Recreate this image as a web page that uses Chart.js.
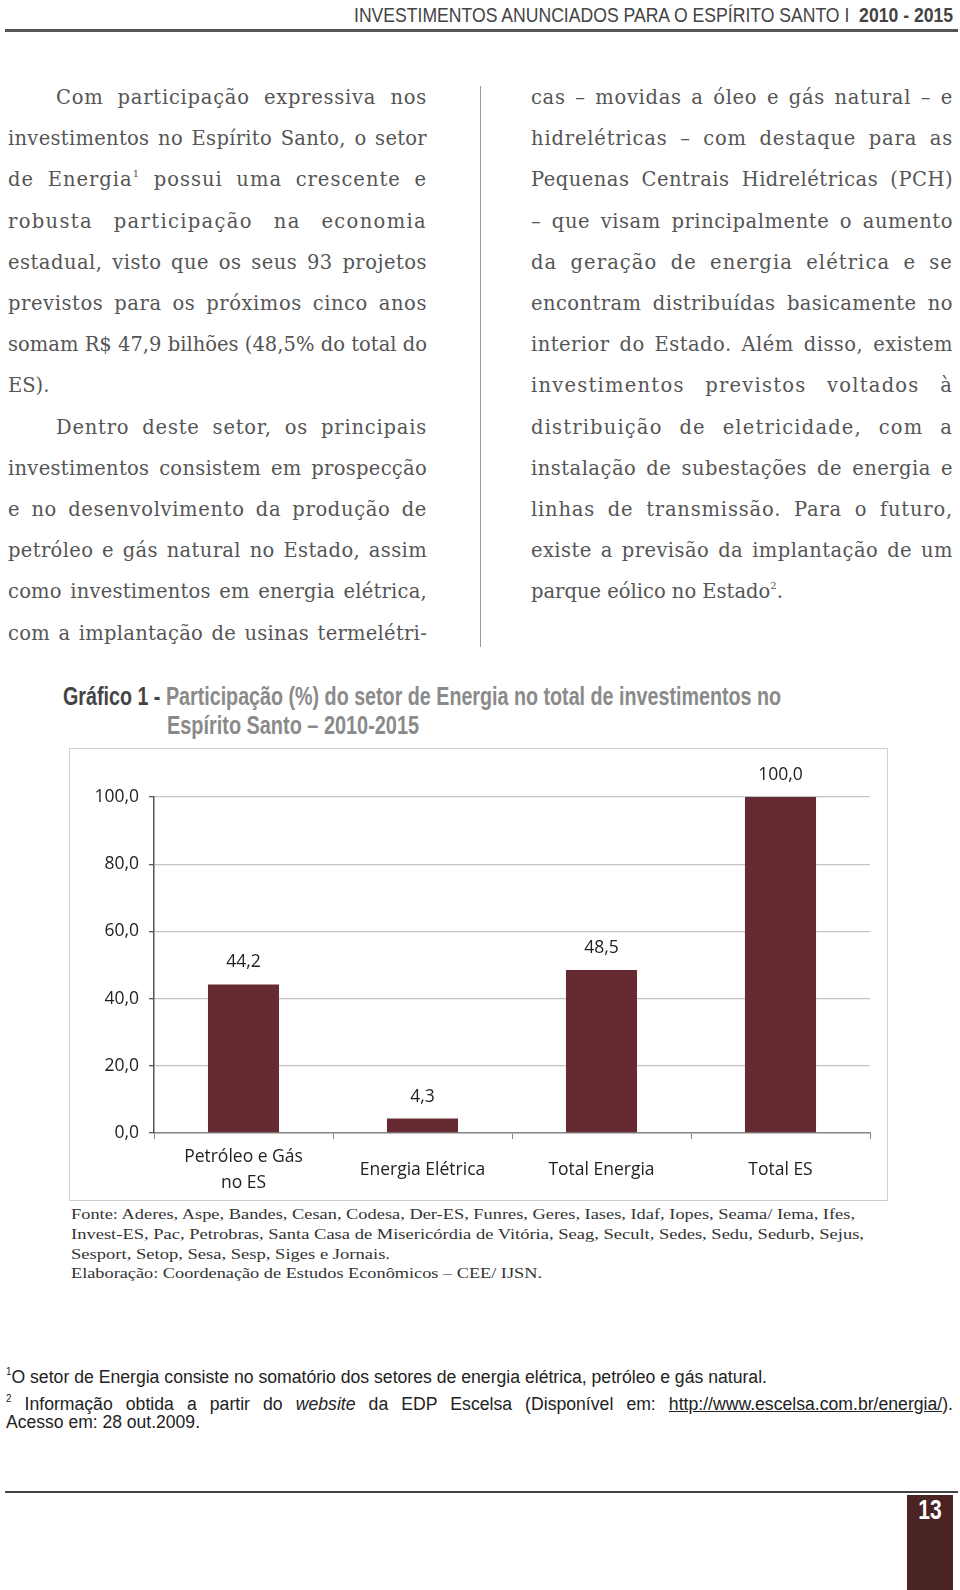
<!DOCTYPE html>
<html>
<head>
<meta charset="utf-8">
<script src="https://cdn.jsdelivr.net/npm/chart.js@4"></script>
<style>
  body { margin: 0; width: 960px; height: 1590px; background: #fff; position: relative; overflow: hidden; }
  .abs { position: absolute; white-space: nowrap; }
  .hdr { right: 7px; top: 3px; font-family: "Liberation Sans", Arial, sans-serif; font-size: 21px; color: #444; }
  .hline { position: absolute; left: 5px; width: 953px; height: 3px; background: #555; }
  .body { position: absolute; font-family: "DejaVu Serif", serif; font-size: 19.5px; color: #555; line-height: 24px; white-space: nowrap; }
  .j { text-align: justify; text-align-last: justify; white-space: normal; }
  .body sup { font-size: 10px; vertical-align: 9px; line-height: 0; }
  .ttl { font-family: "Liberation Sans", Arial, sans-serif; font-weight: bold; font-size: 25px; color: #8a8a8a; }
  .fonte { position: absolute; left: 71px; font-family: "Liberation Serif", serif; font-size: 15.5px; color: #333; white-space: nowrap; }
  .fn { position: absolute; left: 6px; font-family: "Liberation Sans", Arial, sans-serif; font-size: 18px; color: #222; white-space: nowrap; }
  .fn sup { font-size: 10px; vertical-align: 8px; line-height: 0; }
  #frame { position: absolute; left: 69px; top: 748px; width: 819px; height: 453px; box-sizing: border-box; border: 1px solid #cfcfcf; }
</style>
</head>
<body>
<div class="abs hdr" id="hdr">INVESTIMENTOS ANUNCIADOS PARA O ESPÍRITO SANTO I&nbsp; <b>2010 - 2015</b></div>
<div class="hline" style="top:29px"></div>

<div id="left"></div>
<div id="right"></div>
<div style="position:absolute;left:480px;top:86px;width:1px;height:561px;background:#999"></div>

<div class="abs ttl" id="t1" style="left:63px;top:682px"><span style="color:#444">Gráfico 1 -</span> Participação (%) do setor de Energia no total de investimentos no</div>
<div class="abs ttl" id="t2" style="left:167px;top:711px">Espírito Santo – 2010-2015</div>

<div id="frame"><canvas id="myChart"></canvas></div>

<div class="fonte" id="f1" style="top:1205px">Fonte: Aderes, Aspe, Bandes, Cesan, Codesa, Der-ES, Funres, Geres, Iases, Idaf, Iopes, Seama/ Iema, Ifes,</div>
<div class="fonte" id="f2" style="top:1225px">Invest-ES, Pac, Petrobras, Santa Casa de Misericórdia de Vitória, Seag, Secult, Sedes, Sedu, Sedurb, Sejus,</div>
<div class="fonte" id="f3" style="top:1245px">Sesport, Setop, Sesa, Sesp, Siges e Jornais.</div>
<div class="fonte" id="f4" style="top:1264px">Elaboração: Coordenação de Estudos Econômicos – CEE/ IJSN.</div>

<div class="fn" id="n1" style="top:1367px"><sup>1</sup>O setor de Energia consiste no somatório dos setores de energia elétrica, petróleo e gás natural.</div>
<div class="fn j" id="n2" style="top:1394px"><sup>2</sup> Informação obtida a partir do <i>website</i> da EDP Escelsa (Disponível em: <u>http://www.escelsa.com.br/energia/</u>).</div>
<div class="fn" id="n3" style="top:1412px">Acesso em: 28 out.2009.</div>

<div class="hline" style="top:1491px;height:2px;background:#444"></div>
<div style="position:absolute;left:907px;top:1495px;width:46px;height:95px;background:#4a2323"></div>
<div class="abs" style="left:907px;width:46px;top:1495px;text-align:center;font-family:'Liberation Sans',Arial,sans-serif;font-weight:bold;font-size:27px;color:#fff"><span style="display:inline-block;transform:scaleX(0.78)">13</span></div>

<script>
// texto das colunas
const leftLines = [
  ['Com participação expressiva nos', 'i'],
  ['investimentos no Espírito Santo, o setor', 'j'],
  ['de Energia<sup>1</sup> possui uma crescente e', 'j'],
  ['robusta participação na economia', 'j'],
  ['estadual, visto que os seus 93 projetos', 'j'],
  ['previstos para os próximos cinco anos', 'j'],
  ['somam R$ 47,9 bilhões (48,5% do total do', 'j'],
  ['ES).', 'l'],
  ['Dentro deste setor, os principais', 'i'],
  ['investimentos consistem em prospecção', 'j'],
  ['e no desenvolvimento da produção de', 'j'],
  ['petróleo e gás natural no Estado, assim', 'j'],
  ['como investimentos em energia elétrica,', 'j'],
  ['com a implantação de usinas termelétri-', 'j']
];
const rightLines = [
  ['cas – movidas a óleo e gás natural – e', 'j'],
  ['hidrelétricas – com destaque para as', 'j'],
  ['Pequenas Centrais Hidrelétricas (PCH)', 'j'],
  ['– que visam principalmente o aumento', 'j'],
  ['da geração de energia elétrica e se', 'j'],
  ['encontram distribuídas basicamente no', 'j'],
  ['interior do Estado. Além disso, existem', 'j'],
  ['investimentos previstos voltados à', 'j'],
  ['distribuição de eletricidade, com a', 'j'],
  ['instalação de subestações de energia e', 'j'],
  ['linhas de transmissão. Para o futuro,', 'j'],
  ['existe a previsão da implantação de um', 'j'],
  ['parque eólico no Estado<sup>2</sup>.', 'l']
];

function writeColumn(id, lines, x0, x1) {
  const el = document.getElementById(id);
  lines.forEach((ln, i) => {
    const d = document.createElement('div');
    d.className = 'body';
    let left = x0;
    if (ln[1] === 'i') left = x0 + 48;
    d.style.left = left + 'px';
    d.style.top = (86 + i * 41.2) + 'px';
    d.innerHTML = ln[0];
    el.appendChild(d);
    if (ln[1] !== 'l') {
      const target = x1 - left;
      const w = d.getBoundingClientRect().width;
      const n = d.textContent.length;
      const ls = Math.max(0, Math.min((target - w) * 0.5 / (n - 1), 1.4));
      d.style.letterSpacing = ls + 'px';
      d.classList.add('j');
      d.style.width = target + 'px';
    }
  });
}
writeColumn('left', leftLines, 8, 427);
writeColumn('right', rightLines, 531, 953);

// texto condensado: ajusta a largura
function fitWidth(id, target, origin) {
  const el = document.getElementById(id);
  const w = el.getBoundingClientRect().width;
  const s = target / w;
  el.style.transformOrigin = origin || 'left top';
  el.style.transform = 'scaleX(' + s + ')';
  return s;
}
fitWidth('hdr', 599, 'right top');
fitWidth('t1', 718);
fitWidth('t2', 252);
fitWidth('f1', 784);
fitWidth('f2', 793);
fitWidth('f3', 319);
fitWidth('f4', 471);
const sn = fitWidth('n1', 761);
fitWidth('n3', 194);
const n2 = document.getElementById('n2');
n2.style.width = (947 / sn) + 'px';
n2.style.transformOrigin = 'left top';
n2.style.transform = 'scaleX(' + sn + ')';

// dados do gráfico
const categorias = [['Petróleo e Gás', 'no ES'], 'Energia Elétrica', 'Total Energia', 'Total ES'];
const participacao = [44.2, 4.3, 48.5, 100.0];
const rotulos = ['44,2', '4,3', '48,5', '100,0'];

const fmt = v => v.toFixed(1).replace('.', ',');
const chartFont = { family: "'Open Sans', 'Noto Sans', sans-serif", size: 17.5, lineHeight: 1.5 };

const valueLabels = {
  id: 'valueLabels',
  afterDatasetsDraw(chart) {
    const c = chart.ctx;
    const meta = chart.getDatasetMeta(0);
    c.save();
    c.font = "17.5px 'Open Sans', 'Noto Sans', sans-serif";
    c.fillStyle = '#222';
    c.textAlign = 'center';
    c.textBaseline = 'middle';
    meta.data.forEach((bar, i) => {
      c.fillText(rotulos[i], bar.x, bar.y - 22);
    });
    c.restore();
  }
};

const data = {
  labels: categorias,
  datasets: [{
    data: participacao,
    backgroundColor: '#662a33',
    borderWidth: 0,
    barPercentage: 0.397,
    categoryPercentage: 1
  }]
};

const config = {
  type: 'bar',
  data: data,
  plugins: [valueLabels],
  options: {
    responsive: true,
    maintainAspectRatio: false,
    animation: false,
    layout: { padding: { top: 48, right: 17, left: 0, bottom: 0 } },
    plugins: { legend: { display: false }, tooltip: { enabled: false } },
    scales: {
      x: {
        afterFit: s => { s.height = 67; },
        grid: { drawOnChartArea: false, offset: true, tickLength: 6, color: '#888', tickColor: '#888' },
        border: { color: '#888', width: 1.5 },
        ticks: { color: '#222', font: chartFont, padding: 18, crossAlign: 'center', maxRotation: 0, autoSkip: false }
      },
      y: {
        min: 0,
        max: 100,
        afterFit: s => { s.width = 84; },
        grid: { color: '#c4c4c4', lineWidth: 1.3, tickLength: 5, tickColor: '#555' },
        border: { color: '#555', width: 1.5 },
        ticks: { stepSize: 20, color: '#222', font: chartFont, padding: 10, callback: v => fmt(v) }
      }
    }
  }
};

Chart.defaults.color = '#222';
const ctx = document.getElementById('myChart');
const chart = new Chart(ctx, config);
</script>
</body>
</html>
